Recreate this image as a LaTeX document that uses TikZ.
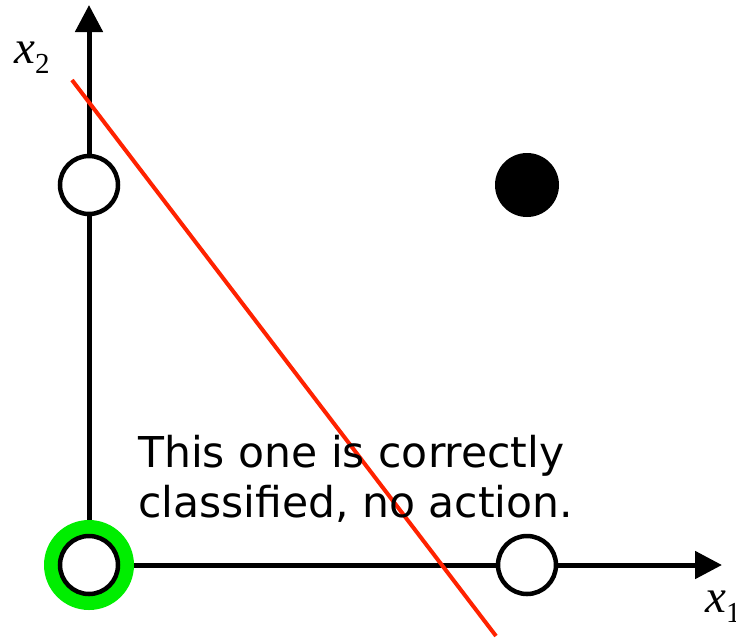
\documentclass[tikz,border=0pt]{standalone}
\usepackage{fontspec}
\newfontfamily\verd{DejaVu Sans}
\newfontfamily\timesit{Liberation Serif}[ItalicFont=* Italic]
\usetikzlibrary{arrows.meta,positioning}
\definecolor{sepred}{RGB}{255,34,0}
\definecolor{hitgreen}{RGB}{0,238,0}

\begin{document}
\begin{tikzpicture}[x=1pt,y=-1pt,
  axis/.style={line width=5pt,-{Triangle[length=27pt,width=27pt]}},
  open/.style={circle,draw=black,line width=4.5pt,fill=white,minimum size=58pt,inner sep=0},
  filled/.style={circle,fill=black,minimum size=64pt,inner sep=0},
  axlabel/.style={font=\timesit\itshape\fontsize{47}{47}\selectfont,inner sep=0}]
\useasboundingbox (0,0) rectangle (736,641);
\coordinate (o) at (89,565);
\coordinate (xtip) at (722,565);
\coordinate (ytip) at (89,5);
\draw[axis] (o) -- (ytip);
\draw[axis] (o) -- (xtip);
% separating line
\coordinate (r1) at (72,80);
\coordinate (r2) at (496,636);
\draw[sepred,line width=4pt] (r1) -- (r2);
% points
\fill[hitgreen] (o) circle (45pt);
\node[open] (p00) at (o) {};
\node[open] (p01) at (89,185) {};
\node[open] (p10) at (527,565) {};
\node[filled] (p11) at (527,185) {};
\node[axlabel,anchor=base west] (lx2) at (14,63) {x\raisebox{-10pt}{\upshape\fontsize{29}{29}\selectfont 2}};
\node[axlabel,anchor=base west] (lx1) at (705,612) {x\raisebox{-10pt}{\upshape\fontsize{29}{29}\selectfont 1}};
\node[anchor=base west,align=left,inner sep=0,
  font=\verd\fontsize{42.5}{50}\selectfont] (msg) at (138,517)
  {This one is correctly\\classified, no action.};
\end{tikzpicture}
\end{document}
